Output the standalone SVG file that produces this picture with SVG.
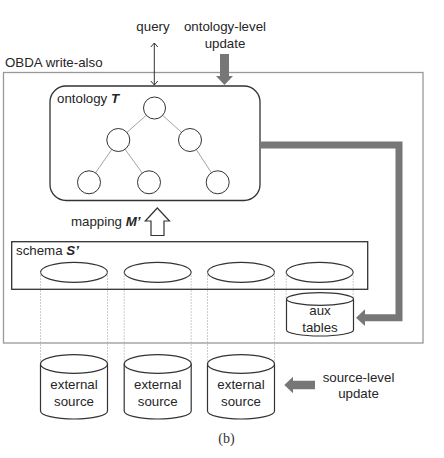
<svg xmlns="http://www.w3.org/2000/svg" width="444" height="458" viewBox="0 0 444 458">
<defs>
<style>
.t{font-family:"Liberation Sans",Arial,sans-serif;font-size:13.3px;fill:#262626}
.tc{text-anchor:middle}
.box{fill:none;stroke:#333;stroke-width:1.3}
.cyl{fill:#fff;stroke:#333;stroke-width:1.2}
.circ{fill:#fff;stroke:#333;stroke-width:1}
.edge{stroke:#999;stroke-width:0.9;fill:none}
.dot{stroke:#aaa;stroke-width:0.8;stroke-dasharray:1.5 1.5;fill:none}
.gray{fill:#777}
</style>
<marker id="chev" viewBox="-6 -6 12 12" markerWidth="12" markerHeight="12" refX="0" refY="0" orient="auto-start-reverse" markerUnits="userSpaceOnUse">
<path d="M-4,-3.5 L0,0 L-4,3.5" fill="none" stroke="#333" stroke-width="1"/>
</marker>
</defs>
<rect width="444" height="458" fill="#fff"/>

<g id="obda">
<rect x="3.5" y="72.5" width="419.5" height="270.5" fill="none" stroke="#999" stroke-width="1.3"/>
<text class="t" x="5" y="67">OBDA write-also</text>
</g>

<g id="labels">
<text class="t tc" x="153" y="31">query</text>
<text class="t tc" x="225" y="31">ontology-level</text>
<text class="t tc" x="225" y="47.5">update</text>
<text class="t tc" x="358.5" y="381.5">source-level</text>
<text class="t tc" x="358.5" y="398">update</text>
<text x="226.5" y="443" style="font-family:'Liberation Serif','Times New Roman',serif;font-size:14px;fill:#333" text-anchor="middle">(b)</text>
</g>

<g id="ontology">
<rect class="box" x="50" y="86" width="210" height="114.5" rx="16" ry="16" fill="#fff"/>
<text class="t" x="57" y="103">ontology <tspan font-weight="bold" font-style="italic">T</tspan></text>
<g id="tree-edges">
<line class="edge" x1="154.5" y1="108" x2="118.3" y2="140"/>
<line class="edge" x1="154.5" y1="108" x2="190" y2="140"/>
<line class="edge" x1="118.3" y1="140" x2="89" y2="182.3"/>
<line class="edge" x1="118.3" y1="140" x2="149" y2="182.3"/>
<line class="edge" x1="190" y1="140" x2="217.7" y2="182.3"/>
</g>
<circle class="circ" cx="154.5" cy="108" r="11"/>
<circle class="circ" cx="118.3" cy="140" r="11.5"/>
<circle class="circ" cx="190" cy="140" r="11.5"/>
<circle class="circ" cx="89" cy="182.3" r="11.5"/>
<circle class="circ" cx="149" cy="182.3" r="11.5"/>
<circle class="circ" cx="217.7" cy="182.3" r="11.5"/>
</g>

<g id="mapping">
<text class="t" x="71" y="225.5">mapping <tspan font-weight="bold" font-style="italic">M’</tspan></text>
<polygon points="157.3,208 169.5,221 164,221 164,235.5 151,235.5 151,221 145.3,221" fill="#fff" stroke="#333" stroke-width="1.2"/>
</g>

<g id="schema">
<rect class="box" x="11.7" y="241.7" width="356" height="47.6" fill="#fff"/>
<text class="t" x="16" y="255">schema <tspan font-weight="bold" font-style="italic">S’</tspan></text>
<ellipse class="cyl" cx="74" cy="272.3" rx="33.5" ry="10"/>
<ellipse class="cyl" cx="157.7" cy="272.3" rx="33.5" ry="10"/>
<ellipse class="cyl" cx="241" cy="272.3" rx="33.5" ry="10"/>
<ellipse class="cyl" cx="319.7" cy="272.3" rx="33.5" ry="10"/>
</g>

<g id="connectors">
<line x1="154.3" y1="43" x2="154.3" y2="85" stroke="#333" stroke-width="1" marker-start="url(#chev)" marker-end="url(#chev)"/>
<polygon class="gray" points="220,54 229,54 229,76 233,76 224.5,85 216,76 220,76"/>
<polyline points="260,145 399,145 399,317.7 363,317.7" fill="none" stroke="#777" stroke-width="7"/>
<polygon class="gray" points="356,317.7 365,309.3 365,326.1"/>
<polygon class="gray" points="284.3,385 293,376.7 293,380.7 315,380.7 315,389.3 293,389.3 293,393.3"/>
<g id="dotted">
<line class="dot" x1="40.5" y1="272.3" x2="40.5" y2="364"/>
<line class="dot" x1="107.5" y1="272.3" x2="107.5" y2="364"/>
<line class="dot" x1="124.2" y1="272.3" x2="124.2" y2="364"/>
<line class="dot" x1="191.2" y1="272.3" x2="191.2" y2="364"/>
<line class="dot" x1="207.5" y1="272.3" x2="207.5" y2="364"/>
<line class="dot" x1="274.5" y1="272.3" x2="274.5" y2="364"/>
<line class="dot" x1="286.2" y1="272.3" x2="286.2" y2="299"/>
<line class="dot" x1="353.2" y1="272.3" x2="353.2" y2="299"/>
</g>
</g>

<g id="aux-tables">
<path class="cyl" d="M286.5,299 L286.5,330 A33.5,6 0 0 0 353.5,330 L353.5,299"/>
<ellipse class="cyl" cx="320" cy="299" rx="33.5" ry="6.3"/>
<text class="t tc" x="320" y="315">aux</text>
<text class="t tc" x="320" y="332">tables</text>
</g>

<g id="source1">
<path class="cyl" d="M40.5,364 L40.5,411 A33.5,8 0 0 0 107.5,411 L107.5,364"/>
<ellipse class="cyl" cx="74" cy="364" rx="33.5" ry="9.3"/>
<text class="t tc" x="74" y="388.5">external</text>
<text class="t tc" x="74" y="405.5">source</text>
</g>
<g id="source2">
<path class="cyl" d="M124.2,364 L124.2,411 A33.5,8 0 0 0 191.2,411 L191.2,364"/>
<ellipse class="cyl" cx="157.7" cy="364" rx="33.5" ry="9.3"/>
<text class="t tc" x="157.7" y="388.5">external</text>
<text class="t tc" x="157.7" y="405.5">source</text>
</g>
<g id="source3">
<path class="cyl" d="M207.5,364 L207.5,411 A33.5,8 0 0 0 274.5,411 L274.5,364"/>
<ellipse class="cyl" cx="241" cy="364" rx="33.5" ry="9.3"/>
<text class="t tc" x="241" y="388.5">external</text>
<text class="t tc" x="241" y="405.5">source</text>
</g>
</svg>
